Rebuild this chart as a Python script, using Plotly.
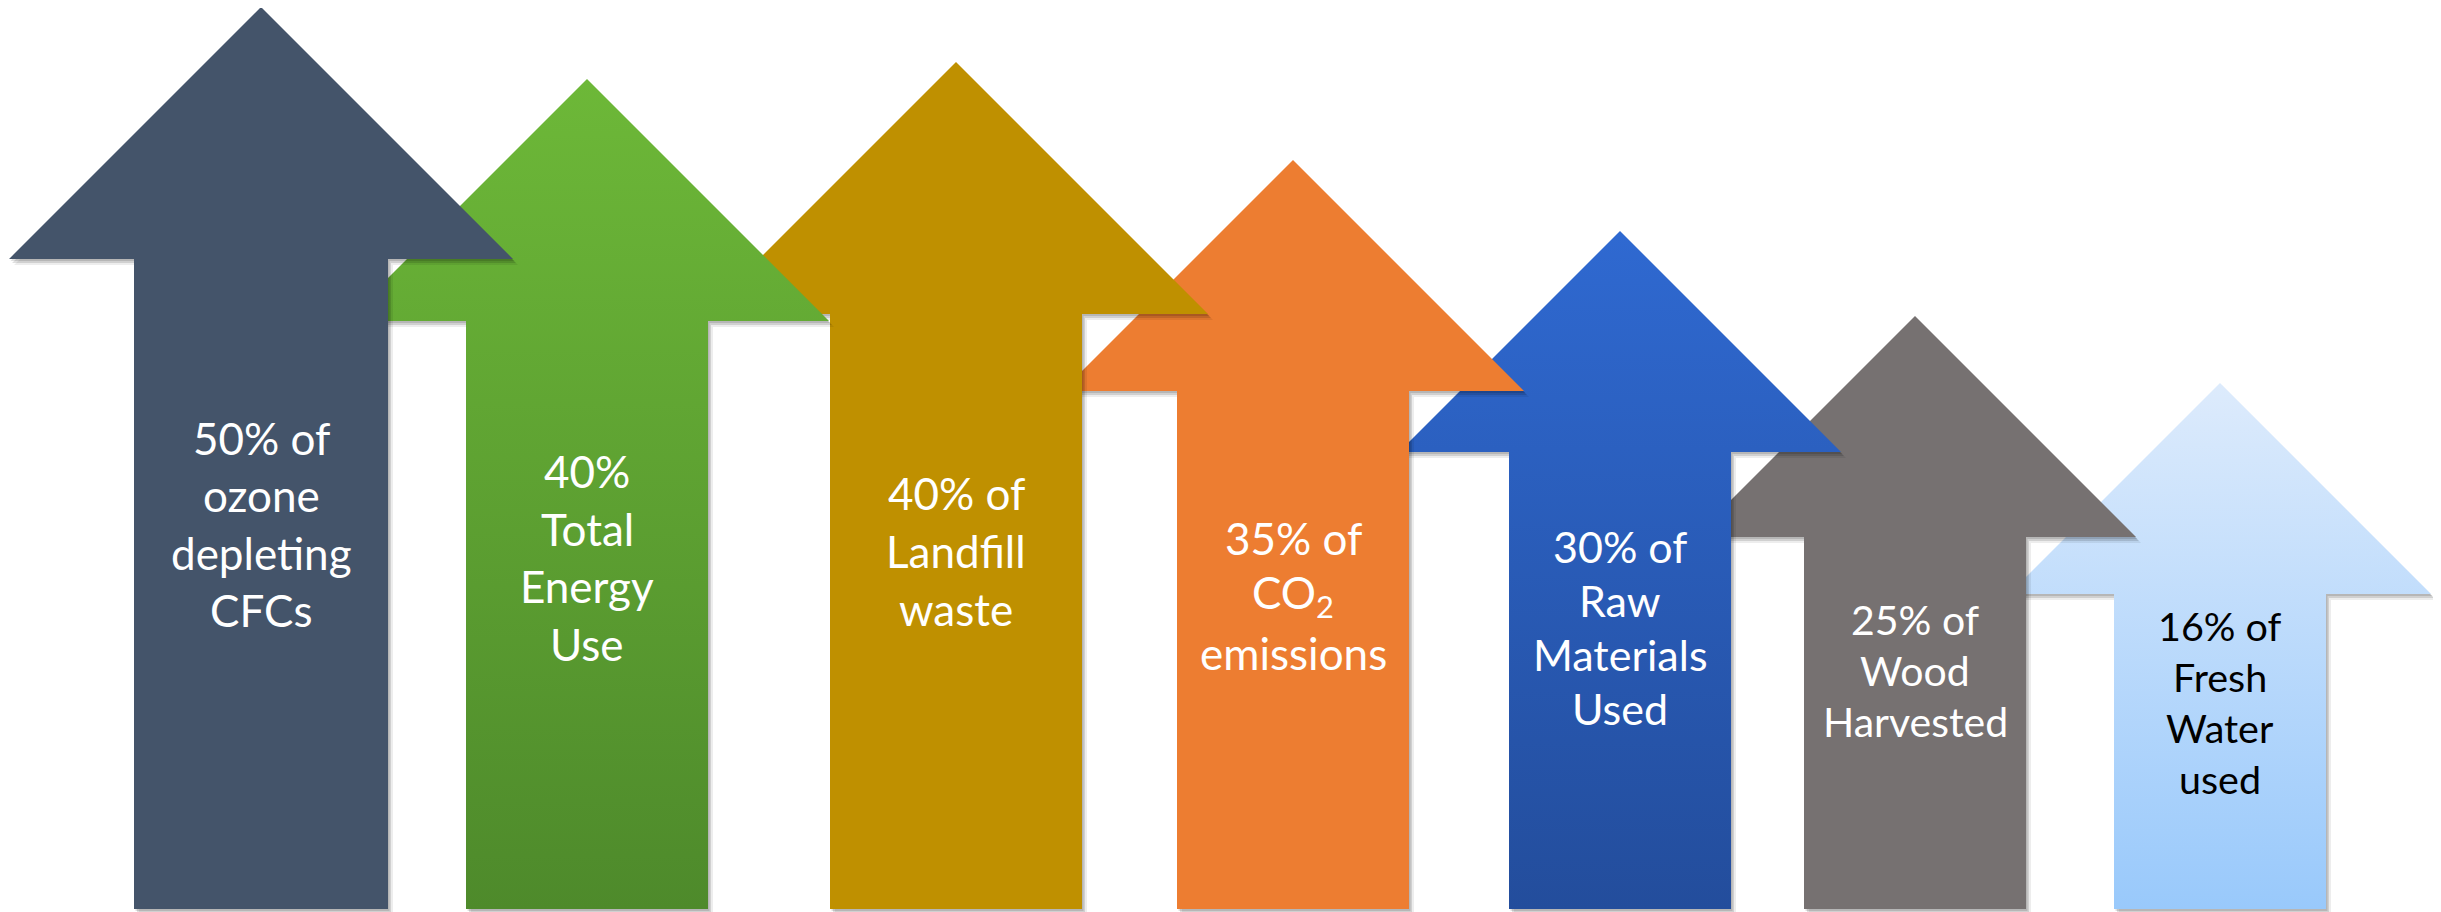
import plotly.graph_objects as go

# ---------------- data ----------------
values = [50, 40, 40, 35, 30, 25, 16]
label_lines = [
    ["50% of", "ozone", "depleting", "CFCs"],
    ["40%", "Total", "Energy", "Use"],
    ["40% of", "Landfill", "waste"],
    ["35% of", "CO<sub>2</sub>", "emissions"],
    ["30% of", "Raw", "Materials", "Used"],
    ["25% of", "Wood", "Harvested"],
    ["16% of", "Fresh", "Water", "used"],
]

# ---------------- layout / style parameters (pixels of the canvas) ----------------
W, H = 2441, 912
PAGE_OFFSET = 8  # default body margin of the html page
base_y = 909
centers = [261, 587, 956, 1293, 1620, 1915, 2220]
apex_y = [7, 79, 62, 160, 231, 316, 383]
head_half = [252, 242, 252, 231, 221, 221, 211]
shaft_half = [127, 121, 126, 116, 111, 111, 106]
top_colors = ["#44546A", "#6DB838", "#BF9000", "#ED7D31", "#2F69D1", "#767171", "#DDEBFC"]
bottom_colors = ["#44546A", "#4E8A2B", "#BF9000", "#ED7D31", "#234D9C", "#767171", "#99C9FB"]
text_colors = ["white"] * 6 + ["black"]
font_sizes = [44, 44, 44, 44, 43, 41, 39.5]
first_line_y = [437, 470, 492, 537, 545, 618, 624]
line_gap = [57.3, 57.7, 58, 57.5, 54.3, 51, 51.3]

fig = go.Figure()


def arrow_path(i, dx=0.0, dy=0.0):
    c = centers[i]
    hb = apex_y[i] + head_half[i]
    xs = [c, c + head_half[i], c + shaft_half[i], c + shaft_half[i],
          c - shaft_half[i], c - shaft_half[i], c - head_half[i], c]
    ys = [apex_y[i], hb, hb, base_y, base_y, hb, hb, apex_y[i]]
    return [x + dx for x in xs], [y + dy for y in ys]


# draw from right to left so that left arrows overlap right ones
for i in reversed(range(len(values))):
    # soft drop shadow
    for (dx, dy, a) in [(5, 6, 0.07), (3, 4, 0.12), (1.5, 2, 0.12)]:
        sx, sy = arrow_path(i, dx, dy)
        fig.add_trace(go.Scatter(x=sx, y=sy, mode="lines", fill="toself",
                                 fillcolor=f"rgba(0,0,0,{a})", line=dict(width=0),
                                 hoverinfo="skip", showlegend=False))
    ax, ay = arrow_path(i)
    trace_kwargs = dict(x=ax, y=ay, mode="lines", fill="toself", line=dict(width=0),
                        fillcolor=top_colors[i], name=f"{values[i]}%",
                        hoverinfo="name", showlegend=False)
    if top_colors[i] != bottom_colors[i]:
        trace_kwargs["fillgradient"] = dict(
            type="vertical", start=base_y, stop=apex_y[i],
            colorscale=[[0, bottom_colors[i]], [1, top_colors[i]]])
    fig.add_trace(go.Scatter(**trace_kwargs))

annotations = []
for i, lines in enumerate(label_lines):
    for k, line in enumerate(lines):
        annotations.append(dict(
            x=centers[i], y=first_line_y[i] + k * line_gap[i] + 1, xref="x", yref="y",
            text=line, showarrow=False, xanchor="center", yanchor="middle",
            font=dict(family="Lato, 'Open Sans', sans-serif", size=font_sizes[i],
                      color=text_colors[i])))

fig.update_layout(
    width=W, height=H, margin=dict(l=0, r=0, t=0, b=0),
    paper_bgcolor="white", plot_bgcolor="white",
    xaxis=dict(range=[PAGE_OFFSET, W + PAGE_OFFSET], visible=False, fixedrange=True),
    yaxis=dict(range=[H + PAGE_OFFSET, PAGE_OFFSET], visible=False, fixedrange=True),
    annotations=annotations, showlegend=False,
)

fig.write_html("out.html")
